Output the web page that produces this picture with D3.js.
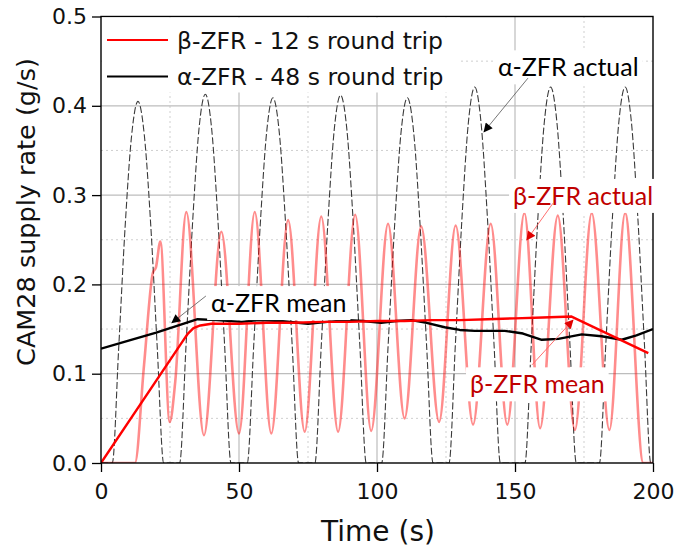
<!DOCTYPE html>
<html>
<head>
<meta charset="utf-8">
<title>CAM28 supply rate</title>
<script src="https://d3js.org/d3.v7.min.js"></script>
<style>
  body { margin: 0; background: #fff; }
  svg text { font-family: "DejaVu Sans", sans-serif; fill: #111; }
  .note { font-family: Lato, "Open Sans", sans-serif; }
</style>
</head>
<body>
<div id="chart"></div>
<script>

// values: [time (s), supply rate (g/s)]
var alphaActual = [
  [0, 0], [4.1, 0], [6.4, 0.128], [8.75, 0.265], [11.1, 0.367], [13.4, 0.405], [15.7, 0.367], [18.05, 0.265], [20.4, 0.128], [22.7, 0],
  [28.5, 0], [30.8, 0.131], [33.2, 0.27], [35.5, 0.374], [37.8, 0.413], [40.1, 0.374], [42.4, 0.27], [44.8, 0.131], [47.1, 0],
  [53.0, 0], [55.3, 0.130], [57.7, 0.267], [60.0, 0.37], [62.3, 0.409], [64.6, 0.37], [66.9, 0.267], [69.3, 0.130], [71.6, 0],
  [77.5, 0], [79.8, 0.131], [82.2, 0.269], [84.5, 0.373], [86.8, 0.412], [89.1, 0.373], [91.4, 0.269], [93.8, 0.131], [96.1, 0],
  [101.7, 0], [104.0, 0.130], [106.4, 0.267], [108.7, 0.37], [111.0, 0.409], [113.3, 0.37], [115.6, 0.267], [118.0, 0.130], [120.3, 0],
  [126.1, 0], [128.4, 0.133], [130.8, 0.275], [133.1, 0.381], [135.4, 0.421], [137.7, 0.381], [140.0, 0.275], [142.4, 0.133], [144.7, 0],
  [153.6, 0], [155.9, 0.133], [158.3, 0.275], [160.6, 0.381], [162.9, 0.421], [165.2, 0.381], [167.5, 0.275], [169.9, 0.133], [172.2, 0],
  [180.6, 0], [182.9, 0.133], [185.3, 0.275], [187.6, 0.381], [189.9, 0.421], [192.2, 0.381], [194.5, 0.275], [196.9, 0.133], [199.2, 0], [200, 0]
];

var betaActual = [
  [0, 0], [12.3, 0], [15.6, 0.11], [18.8, 0.213], [19.9, 0.219], [21.5, 0.248], [24.9, 0.046], [26.9, 0.091], [30.9, 0.281],
  [37.3, 0.031], [43.6, 0.259], [50.0, 0.033], [55.7, 0.281], [61.7, 0.033], [67.8, 0.272], [73.8, 0.035],
  [79.8, 0.276], [85.9, 0.035], [92.1, 0.278], [97.9, 0.036], [104.0, 0.268], [110.0, 0.05], [116.0, 0.265],
  [122.5, 0.046], [128.5, 0.266], [134.8, 0.043], [141.2, 0.268], [147.2, 0.043], [153.4, 0.280], [159.1, 0.039],
  [165.5, 0.277], [171.7, 0.037], [177.8, 0.280], [184.2, 0.037], [189.9, 0.280], [196.5, 0], [200, 0]
];

var alphaMean = [
  [0, 0.128], [10, 0.137], [20, 0.146], [30, 0.156], [35, 0.161], [42, 0.160], [51, 0.158], [57, 0.160], [65, 0.159],
  [75, 0.156], [82, 0.158], [89.5, 0.160], [95, 0.159], [101.5, 0.157], [107, 0.159], [112.4, 0.160], [118, 0.157],
  [124.5, 0.152], [130, 0.149], [135.4, 0.148], [141, 0.148], [146.3, 0.148], [152.9, 0.145], [159.7, 0.138],
  [165.7, 0.139], [174.2, 0.144], [181.4, 0.142], [188.7, 0.138], [194, 0.143], [200, 0.150]
];

var betaMean = [
  [0, 0], [29.5, 0.136], [31.5, 0.145], [33.5, 0.151], [36, 0.154], [40, 0.156], [50, 0.156], [60, 0.157],
  [70, 0.157], [80, 0.158], [90, 0.158], [100, 0.159], [110, 0.159], [120, 0.160], [130, 0.160], [140, 0.161],
  [150, 0.162], [160, 0.163], [170.5, 0.164], [198.3, 0.123]
];

var xTicks = [0, 50, 100, 150, 200];
var yTicks = [0, 0.1, 0.2, 0.3, 0.4, 0.5];
var xMinor = [25, 75, 125, 175];
var yMinor = [0.05, 0.15, 0.25, 0.35, 0.45];

var legendLabels = ["\u03b2-ZFR - 12 s round trip", "\u03b1-ZFR - 48 s round trip"];

// annotations: text anchor point and arrow, in data units
var notes = [
  { text: "\u03b1-ZFR mean",   at: [39.9, 0.169],  from: [38.0, 0.187],  to: [25.7, 0.157],  kind: "black" },
  { text: "\u03b1-ZFR actual", at: [143.8, 0.433], from: [154.7, 0.431], to: [138.8, 0.371], kind: "black" },
  { text: "\u03b2-ZFR actual", at: [149.3, 0.289], from: [163.8, 0.291], to: [154.3, 0.250], kind: "red" },
  { text: "\u03b2-ZFR mean",   at: [133.7, 0.078], from: [156.2, 0.110], to: [171.0, 0.160], kind: "red" }
];

var W = 677, H = 552;
var x = d3.scaleLinear().domain([0, 200]).range([101, 653]);
var y = d3.scaleLinear().domain([0, 0.5]).range([463, 16.5]);

var svg = d3.select("#chart").append("svg")
  .attr("width", W).attr("height", H);

var defs = svg.append("defs");
defs.append("clipPath").attr("id", "plotclip")
  .append("rect")
  .attr("x", x(0)).attr("y", y(0.5))
  .attr("width", x(200) - x(0)).attr("height", y(0) - y(0.5));

var headColor = { black: "#000", red: "#e00000" };
var stemColor = { black: "#666", red: "#ff6060" };
Object.keys(headColor).forEach(function (k) {
  defs.append("marker")
    .attr("id", "head-" + k)
    .attr("viewBox", "0 0 10 10")
    .attr("refX", 9).attr("refY", 5)
    .attr("markerWidth", 11).attr("markerHeight", 9)
    .attr("markerUnits", "userSpaceOnUse")
    .attr("orient", "auto")
    .append("path").attr("d", "M0,0 L10,5 L0,10 z")
    .attr("fill", headColor[k]);
});

// grid
var grid = svg.append("g");
grid.selectAll(".vminor").data(xMinor).enter().append("line")
  .attr("x1", function (d) { return x(d); }).attr("x2", function (d) { return x(d); })
  .attr("y1", y(0)).attr("y2", y(0.5))
  .attr("stroke", "#cfcfcf").attr("stroke-dasharray", "2,3");
grid.selectAll(".hminor").data(yMinor).enter().append("line")
  .attr("y1", function (d) { return y(d); }).attr("y2", function (d) { return y(d); })
  .attr("x1", x(0)).attr("x2", x(200))
  .attr("stroke", "#cfcfcf").attr("stroke-dasharray", "2,3");
grid.selectAll(".vmajor").data(xTicks.slice(1, -1)).enter().append("line")
  .attr("x1", function (d) { return x(d); }).attr("x2", function (d) { return x(d); })
  .attr("y1", y(0)).attr("y2", y(0.5))
  .attr("stroke", "#bdbdbd").attr("stroke-width", 1.2);
grid.selectAll(".hmajor").data(yTicks.slice(1, -1)).enter().append("line")
  .attr("y1", function (d) { return y(d); }).attr("y2", function (d) { return y(d); })
  .attr("x1", x(0)).attr("x2", x(200))
  .attr("stroke", "#bdbdbd").attr("stroke-width", 1.2);

// curves: actual traces smooth, means as straight segments
var smooth = d3.line()
  .x(function (d) { return x(d[0]); })
  .y(function (d) { return y(d[1]); })
  .curve(d3.curveMonotoneX);
var straight = d3.line()
  .x(function (d) { return x(d[0]); })
  .y(function (d) { return y(d[1]); });

var plot = svg.append("g").attr("clip-path", "url(#plotclip)");
plot.append("path").datum(alphaActual).attr("d", smooth)
  .attr("fill", "none").attr("stroke", "#3a3a3a").attr("stroke-width", 1.1)
  .attr("stroke-dasharray", "7,2.5");
plot.append("path").datum(betaActual).attr("d", smooth)
  .attr("fill", "none").attr("stroke", "#ff0000").attr("stroke-opacity", 0.45)
  .attr("stroke-width", 2.6);
plot.append("path").datum(alphaMean).attr("d", straight)
  .attr("fill", "none").attr("stroke", "#000").attr("stroke-width", 2.4)
  .attr("stroke-linejoin", "round");
plot.append("path").datum(betaMean).attr("d", straight)
  .attr("fill", "none").attr("stroke", "#ff0000").attr("stroke-width", 2.4)
  .attr("stroke-linejoin", "round");

// axes
var yAxis = svg.append("g")
  .attr("transform", "translate(" + x(0) + ",0)")
  .call(d3.axisLeft(y).tickValues(yTicks).tickSize(9).tickPadding(5).tickFormat(d3.format(".1f")));
var xAxis = svg.append("g")
  .attr("transform", "translate(0," + y(0) + ")")
  .call(d3.axisBottom(x).tickValues(xTicks).tickSize(9).tickPadding(11));
[xAxis, yAxis].forEach(function (a) {
  a.select(".domain").remove();
  a.selectAll(".tick line").attr("stroke", "#000").attr("stroke-width", 1.3);
  a.selectAll(".tick text").style("font-family", "DejaVu Sans").style("font-size", "22px").attr("fill", "#111");
});

// frame
svg.append("rect")
  .attr("x", x(0)).attr("y", y(0.5))
  .attr("width", x(200) - x(0)).attr("height", y(0) - y(0.5))
  .attr("fill", "none").attr("stroke", "#000").attr("stroke-width", 1.4);

// axis titles
svg.append("text")
  .attr("x", 378).attr("y", 541)
  .attr("text-anchor", "middle")
  .style("font-size", "28px")
  .text("Time (s)");
svg.append("text")
  .attr("transform", "translate(35,212) rotate(-90)")
  .attr("text-anchor", "middle")
  .style("font-size", "25.5px")
  .text("CAM28 supply rate (g/s)");

// legend
var legend = svg.append("g");
legend.append("rect")
  .attr("x", x(0) + 1).attr("y", y(0.5) + 1)
  .attr("width", 358).attr("height", 75)
  .attr("fill", "#fff");
var legColors = ["#ff0000", "#000"];
legendLabels.forEach(function (t, i) {
  var yy = 40 + i * 36.5;
  legend.append("line")
    .attr("x1", 107).attr("x2", 168).attr("y1", yy).attr("y2", yy)
    .attr("stroke", legColors[i]).attr("stroke-width", 2.2);
  legend.append("text")
    .attr("x", 177).attr("y", yy + 8.5)
    .style("font-size", "23.5px")
    .text(t);
});

// annotations
var noteColor = { black: "#000", red: "#c00000" };
notes.forEach(function (n) {
  var g = svg.append("g");
  var t = g.append("text")
    .attr("class", "note")
    .attr("x", x(n.at[0])).attr("y", y(n.at[1]))
    .style("font-size", "25px")
    .style("fill", noteColor[n.kind])
    .text(n.text);
  var b = t.node().getBBox();
  g.insert("rect", "text")
    .attr("x", b.x - 4).attr("y", b.y - 1)
    .attr("width", b.width + 8).attr("height", b.height + 4)
    .attr("fill", "#fff");
  svg.append("line")
    .attr("x1", x(n.from[0])).attr("y1", y(n.from[1]))
    .attr("x2", x(n.to[0])).attr("y2", y(n.to[1]))
    .attr("stroke", stemColor[n.kind]).attr("stroke-width", 0.9)
    .attr("marker-end", "url(#head-" + n.kind + ")");
});

</script>
</body>
</html>
